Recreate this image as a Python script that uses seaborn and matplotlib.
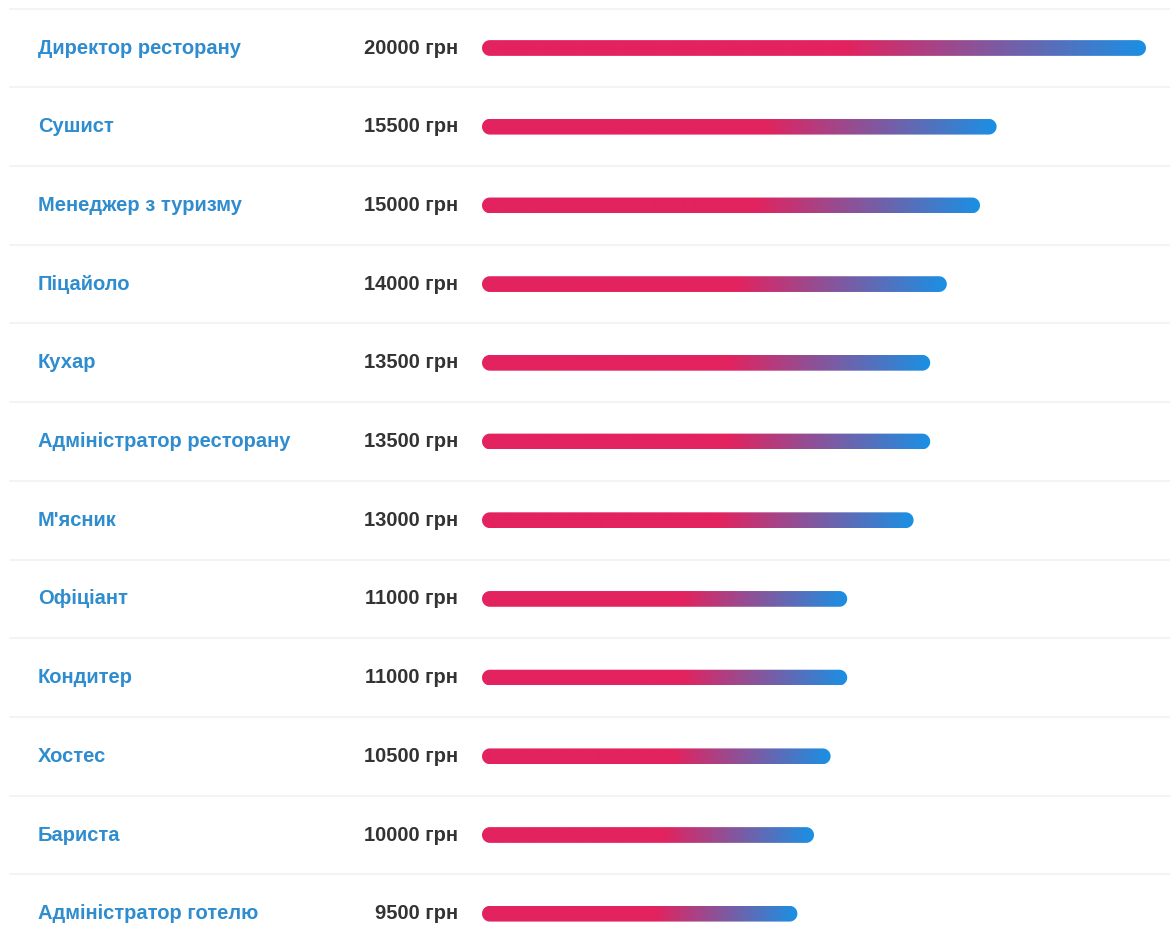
import numpy as np
import matplotlib.pyplot as plt
import matplotlib.transforms as mtransforms
import seaborn as sns
from matplotlib.colors import LinearSegmentedColormap
from matplotlib.patches import Polygon

professions = [
    "Директор ресторану",
    "Сушист",
    "Менеджер з туризму",
    "Піцайоло",
    "Кухар",
    "Адміністратор ресторану",
    "М'ясник",
    "Офіціант",
    "Кондитер",
    "Хостес",
    "Бариста",
    "Адміністратор готелю",
]
salaries = [20000, 15500, 15000, 14000, 13500, 13500, 13000, 11000, 11000, 10500, 10000, 9500]
currency = "грн"

pink = "#e2235f"
blue = "#1a90e4"
label_color = "#2e8ccf"
value_color = "#333333"
line_color = "#f1f1f1"

fig_w, fig_h = 1170, 926  # pixels
sns.set_style("white")
plt.rcParams["font.family"] = ["Liberation Sans", "DejaVu Sans"]

fig = plt.figure(figsize=(fig_w / 100, fig_h / 100), dpi=100)
ax = fig.add_axes([0, 0, 1, 1])

sns.barplot(x=salaries, y=professions, orient="h", color=pink, width=0.2, ax=ax)

# layout: bar origin at 482px, longest bar ends at 1146px, rows 78.7px apart
px_per_unit = (1146 - 482) / max(salaries)
row_px = 78.7
x_lim = (-482 / px_per_unit, (fig_w - 482) / px_per_unit)
y_lim = ((fig_h - 48) / row_px, -48 / row_px)

cmap = LinearSegmentedColormap.from_list("bar", [(0, pink), (0.55, pink), (1, blue)])
grad = np.linspace(0, 1, 256).reshape(1, -1)


def pill(x0, y0, w, h):
    """ Polygon of the bar with semicircular ends (aspect corrected) """
    ry = h / 2
    rx = ry * row_px / px_per_unit
    yc = y0 + ry
    t_left = np.linspace(np.pi / 2, 3 * np.pi / 2, 30)
    t_right = np.linspace(-np.pi / 2, np.pi / 2, 30)
    left = np.column_stack([x0 + rx + rx * np.cos(t_left), yc + ry * np.sin(t_left)])
    right = np.column_stack([x0 + w - rx + rx * np.cos(t_right), yc + ry * np.sin(t_right)])
    return Polygon(np.vstack([left, right]), closed=True, facecolor="none", edgecolor="none")


for bar in list(ax.patches):
    x0, y0 = bar.get_x(), bar.get_y()
    w, h = bar.get_width(), bar.get_height()
    bar.set_visible(False)
    shape = pill(x0, y0, w, h)
    ax.add_patch(shape)
    im = ax.imshow(grad, cmap=cmap, extent=(x0, x0 + w, y0 + h, y0),
                   aspect="auto", interpolation="bilinear")
    im.set_clip_path(shape)

# row separators
for i in range(len(professions) + 1):
    ax.axhline(i - 0.5, xmin=10 / fig_w, xmax=1, color=line_color, lw=1.2)

tf = mtransforms.blended_transform_factory(ax.transAxes, ax.transData)
for i, (name, val) in enumerate(zip(professions, salaries)):
    ax.text(38 / fig_w, i, name, transform=tf, ha="left", va="center",
            fontsize=14.5, fontweight="bold", color=label_color)
    ax.text(458 / fig_w, i, f"{val} {currency}", transform=tf, ha="right",
            va="center", fontsize=14.5, fontweight="bold", color=value_color)

ax.set_xlim(*x_lim)
ax.set_ylim(*y_lim)
ax.set_axis_off()

fig.savefig("out.png", dpi=100)
plt.close()
